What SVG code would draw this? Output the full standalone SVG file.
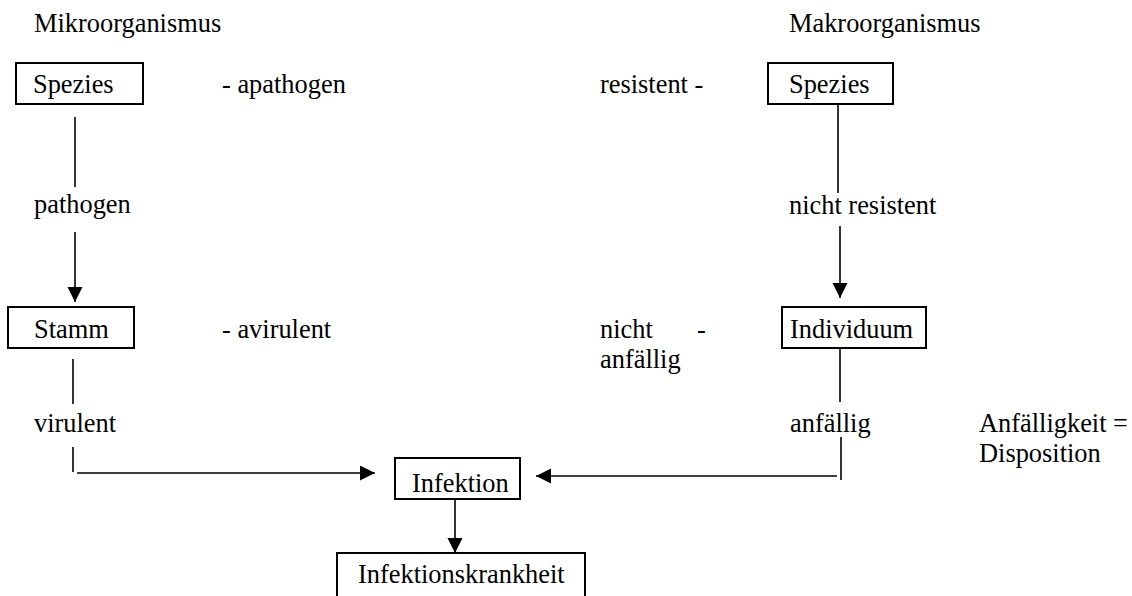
<svg xmlns="http://www.w3.org/2000/svg" width="1132" height="596" viewBox="0 0 1132 596">
<style>
text{font-family:"Liberation Serif","Times New Roman",serif;font-size:26.4px;fill:#000}
.box{fill:#fff;stroke:#000;stroke-width:2}
.ln{stroke:#000;stroke-width:1.6;fill:none}
</style>
<defs>
<marker id="ah" markerUnits="userSpaceOnUse" markerWidth="16" markerHeight="16" refX="15" refY="7.5" orient="auto">
<path d="M0,0 L15,7.5 L0,15 Z" fill="#000"/>
</marker>
</defs>
<rect width="1132" height="596" fill="#fff"/>
<g id="labels">
<text x="34" y="32">Mikroorganismus</text>
<text x="789" y="32">Makroorganismus</text>
<text x="222" y="93">- apathogen</text>
<text x="600" y="93">resistent -</text>
<text x="34" y="213">pathogen</text>
<text x="789" y="214">nicht resistent</text>
<text x="222" y="338">- avirulent</text>
<text x="600" y="338">nicht</text>
<text x="697" y="338">-</text>
<text x="600" y="368">anfällig</text>
<text x="34" y="432">virulent</text>
<text x="790" y="432">anfällig</text>
<text x="979" y="432">Anfälligkeit =</text>
<text x="979" y="462">Disposition</text>
</g>
<g id="connectors">
<line class="ln" x1="75" y1="117" x2="75" y2="187"/>
<line class="ln" x1="75" y1="232" x2="75" y2="302" marker-end="url(#ah)"/>
<line class="ln" x1="73" y1="359" x2="73" y2="404"/>
<line class="ln" x1="73" y1="447" x2="73" y2="472"/>
<line class="ln" x1="77" y1="473" x2="375" y2="473" marker-end="url(#ah)"/>
<line class="ln" x1="838" y1="104" x2="838" y2="193"/>
<line class="ln" x1="840" y1="226" x2="840" y2="298" marker-end="url(#ah)"/>
<line class="ln" x1="840" y1="348" x2="840" y2="402"/>
<line class="ln" x1="841" y1="437" x2="841" y2="480"/>
<line class="ln" x1="837" y1="476" x2="536" y2="476" marker-end="url(#ah)"/>
<line class="ln" x1="455" y1="499" x2="455" y2="553" marker-end="url(#ah)"/>
</g>
<g id="spezies-mikro">
<rect class="box" x="16" y="63" width="127" height="41"/>
<text x="33" y="93">Spezies</text>
</g>
<g id="spezies-makro">
<rect class="box" x="768" y="63" width="125" height="41"/>
<text x="789" y="93">Spezies</text>
</g>
<g id="stamm">
<rect class="box" x="8" y="307" width="126" height="41"/>
<text x="34" y="338">Stamm</text>
</g>
<g id="individuum">
<rect class="box" x="782" y="307" width="144" height="41"/>
<text x="790" y="338">Individuum</text>
</g>
<g id="infektion">
<rect class="box" x="395" y="458" width="125" height="41"/>
<text x="412" y="492">Infektion</text>
</g>
<g id="infektionskrankheit">
<rect class="box" x="337" y="553" width="248" height="60"/>
<text x="358" y="583">Infektionskrankheit</text>
</g>
</svg>
